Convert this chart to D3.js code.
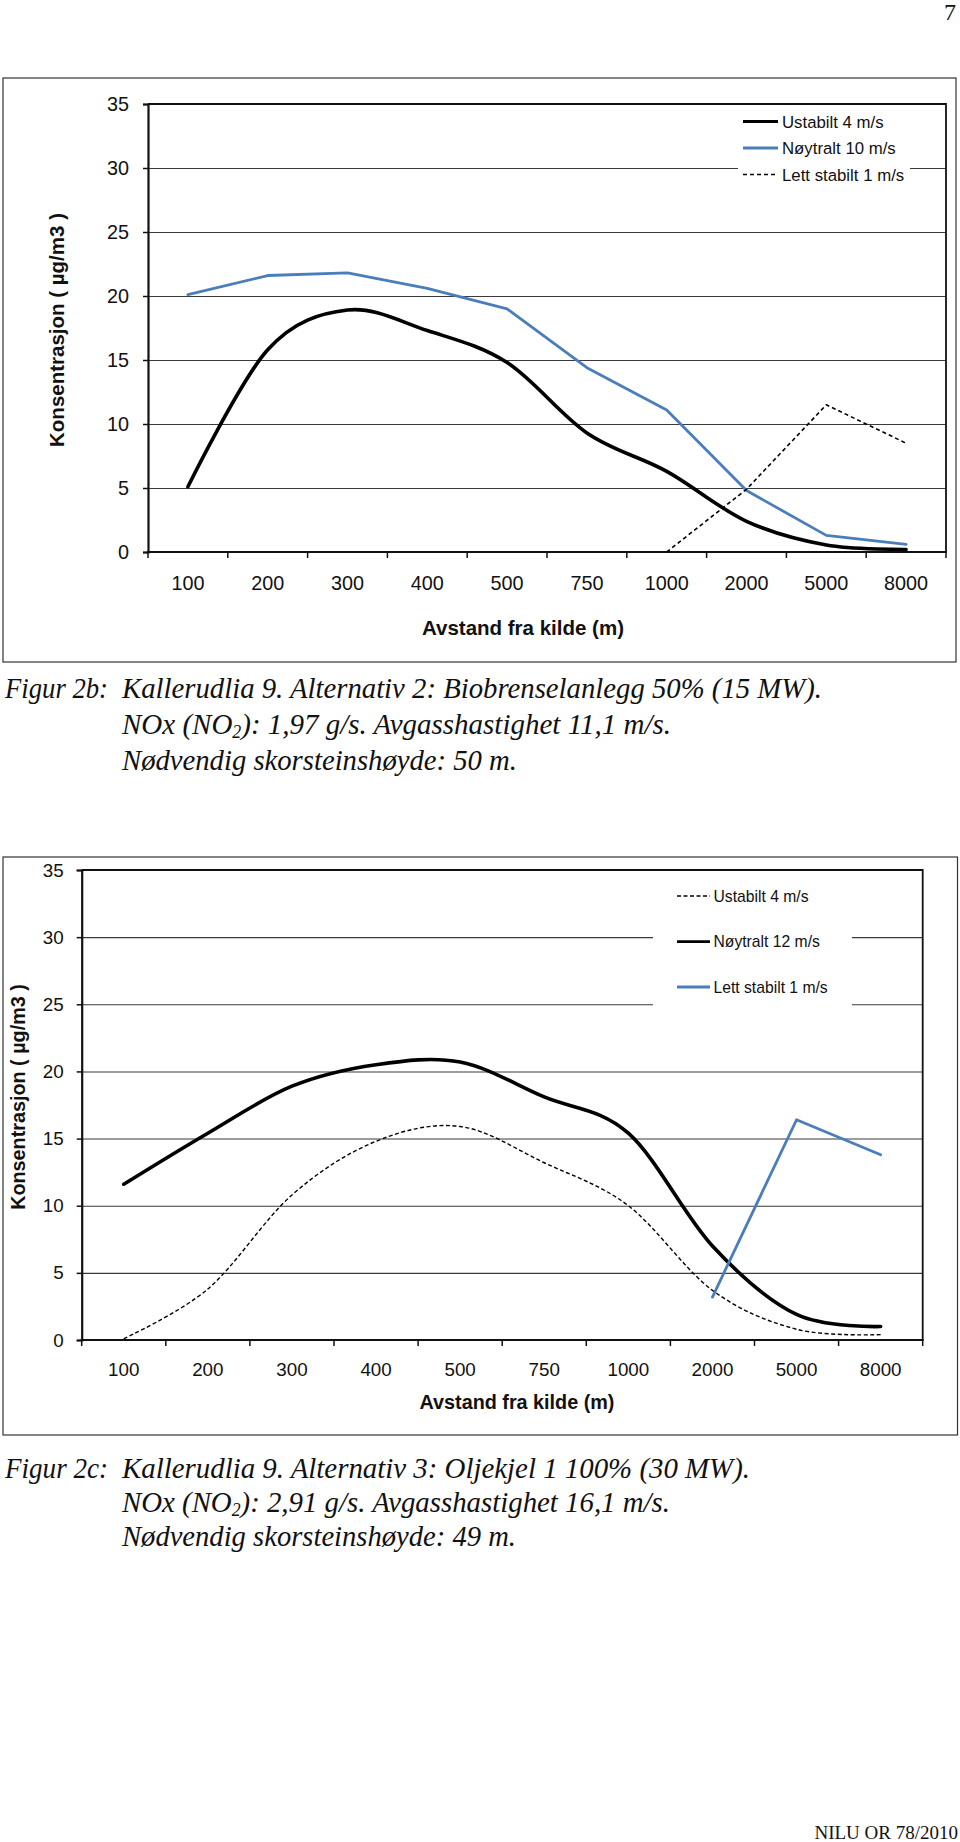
<!DOCTYPE html>
<html><head><meta charset="utf-8">
<script src="https://cdn.jsdelivr.net/npm/d3@7"></script>
<style>body{margin:0;background:#fff}svg{display:block}</style>
</head><body>
<svg id="page" width="960" height="1842"></svg>
<script>
// ---------- DATA ----------
const categories = ["100","200","300","400","500","750","1000","2000","5000","8000"];
const yTicks = [0,5,10,15,20,25,30,35];

// Figur 2b
const b_ustabilt4 = [5.1, 15.8, 18.9, 17.3, 14.8, 9.3, 6.3, 2.4, 0.55, 0.2];
const b_noytralt10 = [20.1, 21.6, 21.8, 20.6, 19.0, 14.4, 11.1, 4.8, 1.3, 0.6];
const b_lettstabilt1 = [null, null, null, null, null, null, 0, 4.9, 11.5, 8.5];
const b_names = ["Ustabilt 4 m/s", "Nøytralt 10 m/s", "Lett stabilt 1 m/s"];

// Figur 2c
const c_ustabilt4 = [0.1, 3.8, 10.8, 14.8, 15.9, 13.2, 10.0, 3.7, 0.8, 0.4];
const c_noytralt12 = [11.6, 15.4, 18.9, 20.5, 20.7, 18.1, 15.4, 7.0, 1.9, 1.0];
const c_lettstabilt1 = [null, null, null, null, null, null, null, 3.2, 16.4, 13.8];
const c_names = ["Ustabilt 4 m/s", "Nøytralt 12 m/s", "Lett stabilt 1 m/s"];

const xTitle = "Avstand fra kilde (m)";
const yTitle = "Konsentrasjon ( µg/m3 )";

// ---------- DRAW ----------
const svg = d3.select("#page");
const BLUE = "#4a7ebb";
const SANS = "'Liberation Sans', Arial, sans-serif";
const SERIF = "'Liberation Serif', 'Times New Roman', serif";

function chart(o){
  const g = svg.append("g");
  g.append("rect").attr("x",o.frame[0]).attr("y",o.frame[1])
    .attr("width",o.frame[2]-o.frame[0]).attr("height",o.frame[3]-o.frame[1])
    .attr("fill","#fff").attr("stroke","#333").attr("stroke-width",1.2);

  const x = d3.scaleBand().domain(categories).range([o.plot[0], o.plot[2]]).padding(0);
  const y = d3.scaleLinear().domain([0,35]).range([o.plot[3], o.plot[1]]);

  g.append("g").attr("transform",`translate(${o.plot[0]},0)`)
    .call(d3.axisLeft(y).tickValues(yTicks.slice(1,-1)).tickSize(-(o.plot[2]-o.plot[0])).tickFormat(""))
    .call(s=>s.select(".domain").remove())
    .call(s=>s.selectAll("line").attr("stroke","#3a3a3a").attr("stroke-width",1.1));

  g.append("rect").attr("x",o.legBox[0]).attr("y",o.legBox[1])
    .attr("width",o.legBox[2]-o.legBox[0]).attr("height",o.legBox[3]-o.legBox[1]).attr("fill","#fff");

  g.append("path").attr("d",`M${o.plot[0]},${o.plot[1]}H${o.plot[2]}V${o.plot[3]}`)
    .attr("fill","none").attr("stroke","#111").attr("stroke-width",1.8);

  const ya = g.append("g").attr("transform",`translate(${o.plot[0]},0)`)
    .call(d3.axisLeft(y).tickValues(yTicks).tickSize(5).tickPadding(o.yPad));
  ya.select(".domain").attr("stroke","#111").attr("stroke-width",2.2);
  ya.selectAll("line").attr("stroke","#111").attr("stroke-width",1.5);
  ya.selectAll("text").attr("font-family",SANS).attr("font-size",o.fs).attr("fill","#111");

  const xa = g.append("g").attr("transform",`translate(0,${o.plot[3]})`)
    .call(d3.axisBottom(x).tickSize(0).tickPadding(o.xPad));
  xa.select(".domain").remove();
  xa.selectAll("text").attr("font-family",SANS).attr("font-size",o.fs).attr("fill","#111");
  const bounds = categories.map(c=>x(c)).concat([x.range()[1]]);
  g.append("g").selectAll("line").data(bounds).join("line")
    .attr("x1",d=>d).attr("x2",d=>d).attr("y1",o.plot[3]).attr("y2",o.plot[3]+6)
    .attr("stroke","#111").attr("stroke-width",1.5);
  g.append("line").attr("x1",o.plot[0]-1).attr("x2",o.plot[2]+1).attr("y1",o.plot[3]).attr("y2",o.plot[3])
    .attr("stroke","#111").attr("stroke-width",2.2);

  g.append("text").attr("x",o.xTitlePos[0]).attr("y",o.xTitlePos[1]).attr("text-anchor","middle")
    .attr("font-family",SANS).attr("font-weight","bold").attr("font-size",o.tfs).attr("fill","#111").text(xTitle);
  g.append("text").attr("transform",`translate(${o.yTitlePos[0]},${o.yTitlePos[1]}) rotate(-90)`)
    .attr("text-anchor","middle").attr("font-family",SANS).attr("font-weight","bold")
    .attr("font-size",o.tfs).attr("fill","#111").text(yTitle);

  const cx = c => x(c) + x.bandwidth()/2;
  o.series.forEach(s=>{
    const pts = categories.map((c,i)=>[c, s.values[i]]).filter(p=>p[1]!==null);
    const line = d3.line().x(p=>cx(p[0])).y(p=>y(p[1])).curve(s.smooth? d3.curveCardinal.tension(0): d3.curveLinear);
    g.append("path").attr("d",line(pts)).attr("fill","none").attr("stroke",s.color)
      .attr("stroke-width",s.width).attr("stroke-dasharray",s.dash||null)
      .attr("stroke-linejoin","round").attr("stroke-linecap",s.dash?"butt":"round");
  });

  o.series.forEach((s,i)=>{
    const ry = o.legRows[i];
    g.append("line").attr("x1",o.legLine[0]).attr("x2",o.legLine[1]).attr("y1",ry).attr("y2",ry)
      .attr("stroke",s.color).attr("stroke-width",Math.min(s.width,2.8)).attr("stroke-dasharray",s.dash||null);
    g.append("text").attr("x",o.legText).attr("y",ry).attr("dy","0.36em")
      .attr("font-family",SANS).attr("font-size",o.lfs).attr("fill","#111").text(s.name);
  });
}

chart({
  frame:[3,78,956,662], plot:[148,104,946,552], fs:19.8, tfs:20.5, lfs:16.8,
  yPad:14, xPad:24, xTitlePos:[523,635], yTitlePos:[64,330],
  legBox:[738,106,910,188], legLine:[743,778], legText:782, legRows:[121.5,148,174.5],
  series:[
    {name:b_names[0], values:b_ustabilt4, color:"#000", width:3.6, smooth:true},
    {name:b_names[1], values:b_noytralt10, color:BLUE, width:2.8},
    {name:b_names[2], values:b_lettstabilt1, color:"#000", width:1.6, dash:"4,3"}
  ]
});

chart({
  frame:[3,857,957.5,1435], plot:[81.7,870,922.7,1340], fs:18.8, tfs:19.8, lfs:15.7,
  yPad:13, xPad:23, xTitlePos:[517,1408.5], yTitlePos:[25,1097],
  legBox:[653,876,852,1010], legLine:[677,710], legText:713.5, legRows:[896,941.7,987],
  series:[
    {name:c_names[0], values:c_ustabilt4, color:"#000", width:1.4, smooth:true, dash:"4,2.5"},
    {name:c_names[1], values:c_noytralt12, color:"#000", width:3.6, smooth:true},
    {name:c_names[2], values:c_lettstabilt1, color:BLUE, width:2.8}
  ]
});

// ---------- PAGE TEXT ----------
function caption(label, lines, y0, dy){
  const fs = 26, sy = 1.15;
  svg.append("text").attr("transform",`translate(5,${y0}) scale(1,${sy})`)
    .attr("textLength",103).attr("lengthAdjust","spacingAndGlyphs")
    .attr("font-family",SERIF).attr("font-style","italic").attr("font-size",fs).attr("fill","#111").text(label);
  lines.forEach((ln,i)=>{
    const t = svg.append("text").attr("transform",`translate(${ln[0]},${y0 + i*dy}) scale(1,${sy})`)
      .attr("textLength", ln[1]-ln[0]).attr("lengthAdjust","spacingAndGlyphs")
      .attr("font-family",SERIF).attr("font-style","italic").attr("font-size",fs).attr("fill","#111");
    ln[2].forEach(part=>{
      const sp = t.append("tspan").text(part.t);
      if(part.sub) sp.attr("font-size",16).attr("baseline-shift","-22%");
    });
  });
}
caption("Figur 2b:", [
  [122, 822, [{t:"Kallerudlia 9. Alternativ 2: Biobrenselanlegg 50% (15 MW)."}]],
  [122, 671, [{t:"NOx (NO"},{t:"2",sub:true},{t:"): 1,97 g/s. Avgasshastighet 11,1 m/s."}]],
  [122, 517, [{t:"Nødvendig skorsteinshøyde: 50 m."}]]
], 698, 36);
caption("Figur 2c:", [
  [122, 750, [{t:"Kallerudlia 9. Alternativ 3: Oljekjel 1 100% (30 MW)."}]],
  [122, 670, [{t:"NOx (NO"},{t:"2",sub:true},{t:"): 2,91 g/s. Avgasshastighet 16,1 m/s."}]],
  [122, 516, [{t:"Nødvendig skorsteinshøyde: 49 m."}]]
], 1478, 34);

svg.append("text").attr("x",956).attr("y",20).attr("text-anchor","end")
  .attr("font-family",SERIF).attr("font-size",24).attr("fill","#111").text("7");
svg.append("text").attr("x",958).attr("y",1839).attr("text-anchor","end")
  .attr("font-family",SERIF).attr("font-size",19).attr("fill","#111").text("NILU OR 78/2010");
</script>
</body></html>
